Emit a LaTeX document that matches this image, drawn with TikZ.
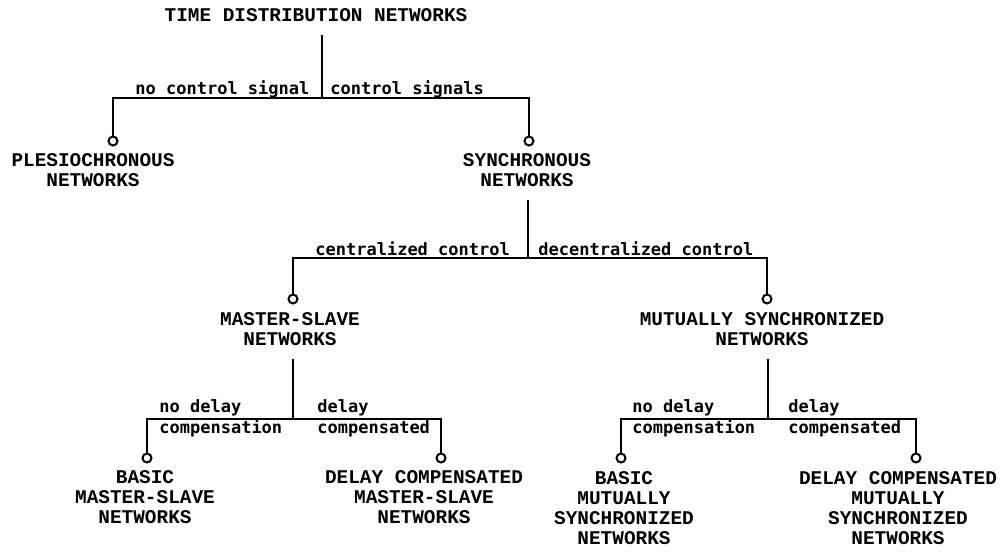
\documentclass[tikz,border=0pt]{standalone}
\usepackage{fontspec}
\newfontfamily\capsfont{Liberation Mono}
\newfontfamily\smallfont{DejaVu Sans Mono}
\usetikzlibrary{positioning}

\begin{document}
\begin{tikzpicture}[x=0.5pt,y=-0.5pt,
        wire/.style={line width=1.2pt},
        trunk/.style={wire, shorten <=6.5pt},
        knob/.style={circle, draw, line width=1pt, fill=white, inner sep=0pt, minimum size=4.5pt},
        netlabel/.style={align=center, inner sep=0pt, font=\capsfont\bfseries\fontsize{9.7}{10}\selectfont},
        branchlabel/.style={align=left, inner sep=0pt, anchor=base west, font=\smallfont\bfseries\fontsize{8.5}{10.5}\selectfont}]
        \def\barA{98}
        \def\barB{258}
        \def\barC{419}
        \def\knobA{141}
        \def\knobB{299}
        \def\knobC{458}

        \useasboundingbox (0,0) rectangle (1005,552);

        \node[netlabel] (tdn) at (316,15) {TIME DISTRIBUTION NETWORKS};
        \node[netlabel] (plesio) at (93,170.5) {PLESIOCHRONOUS\\NETWORKS};
        \node[netlabel] (sync) at (527,170.5) {SYNCHRONOUS\\NETWORKS};
        \node[netlabel] (ms) at (290,329.5) {MASTER-SLAVE\\NETWORKS};
        \node[netlabel] (mut) at (762,329.5) {MUTUALLY SYNCHRONIZED\\NETWORKS};
        \node[netlabel] (basicms) at (145,497) {BASIC\\MASTER-SLAVE\\NETWORKS};
        \node[netlabel] (dcms) at (424,497) {DELAY COMPENSATED\\MASTER-SLAVE\\NETWORKS};
        \node[netlabel] (basicmut) at (624,508) {BASIC\\MUTUALLY\\SYNCHRONIZED\\NETWORKS};
        \node[netlabel] (dcmut) at (898,508) {DELAY COMPENSATED\\MUTUALLY\\SYNCHRONIZED\\NETWORKS};

        \coordinate (jA) at (322,\barA);
        \coordinate (jB) at (528,\barB);
        \coordinate (jC) at (293,\barC);
        \coordinate (jD) at (768,\barC);

        \node[knob] (kPlesio) at (113,\knobA) {};
        \node[knob] (kSync) at (529,\knobA) {};
        \node[knob] (kMs) at (293,\knobB) {};
        \node[knob] (kMut) at (767,\knobB) {};
        \node[knob] (kBasicMs) at (147,\knobC) {};
        \node[knob] (kDcMs) at (441,\knobC) {};
        \node[knob] (kBasicMut) at (621,\knobC) {};
        \node[knob] (kDcMut) at (916,\knobC) {};

        \draw[trunk] (tdn.south -| jA) -- (jA);
        \draw[wire] (kPlesio) |- (jA) -| (kSync);
        \draw[trunk] (sync.south -| jB) -- (jB);
        \draw[wire] (kMs) |- (jB) -| (kMut);
        \draw[trunk] (ms.south -| jC) -- (jC);
        \draw[wire] (kBasicMs) |- (jC) -| (kDcMs);
        \draw[trunk] (mut.south -| jD) -- (jD);
        \draw[wire] (kBasicMut) |- (jD) -| (kDcMut);

        \node[branchlabel] (noCtrl) at (135,94) {no control signal};
        \node[branchlabel] (ctrl) at (330,94) {control signals};
        \node[branchlabel] (central) at (315,255) {centralized control};
        \node[branchlabel] (decentral) at (538,255) {decentralized control};
        \node[branchlabel] (noDelayMs) at (159,433) {no delay\\compensation};
        \node[branchlabel] (delayMs) at (317,433) {delay\\compensated};
        \node[branchlabel] (noDelayMut) at (632,433) {no delay\\compensation};
        \node[branchlabel] (delayMut) at (788,433) {delay\\compensated};
\end{tikzpicture}
\end{document}
